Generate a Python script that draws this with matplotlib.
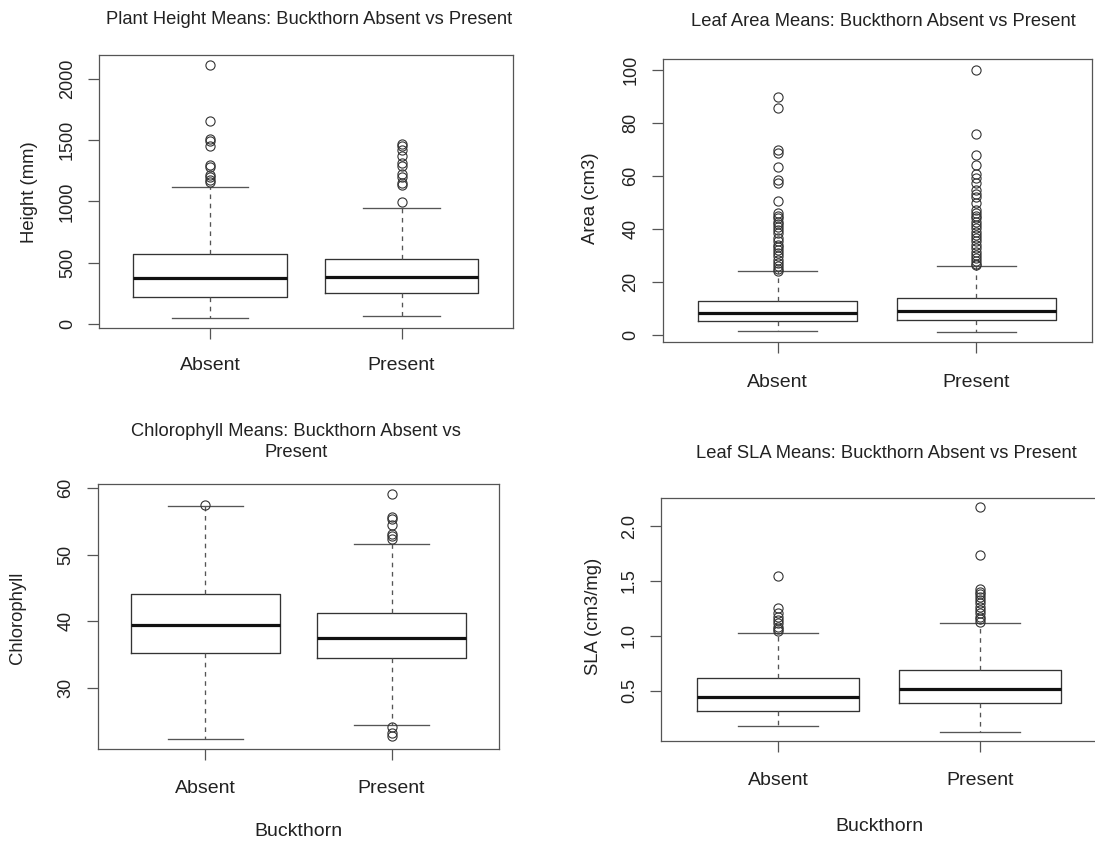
import matplotlib
matplotlib.use("Agg")
import matplotlib.pyplot as plt

plt.rcParams['font.family'] = ['Liberation Sans', 'DejaVu Sans']

W, H = 1095, 842
DPI = 100

groups = ["Absent", "Present"]

# five-number summaries: whisker low, Q1, median, Q3, whisker high
height_absent = [46, 219, 374, 574, 1115]
height_present = [60, 254, 383, 533, 948]
height_absent_out = [2112, 1658, 1508, 1489, 1454, 1298, 1279, 1216, 1197, 1175, 1161]
height_present_out = [997, 1134, 1153, 1202, 1224, 1290, 1311, 1366, 1415, 1448, 1467]

area_absent = [1.5, 5.3, 8.4, 12.8, 24.3]
area_present = [1.25, 5.6, 9.0, 14.0, 25.9]
area_absent_out = [89.7, 85.7, 69.7, 68.5, 63.5, 58.5, 57.4, 50.6, 45.9, 44.9, 44.1,
                   42.8, 41.9, 40.9, 39.7, 38.4, 36.5, 35.3, 34.0, 33.2, 32.2, 30.9,
                   29.7, 28.4, 27.2, 25.9, 24.9, 24.3]
area_present_out = [100.0, 75.8, 67.8, 64.3, 60.7, 59.1, 57.4, 54.7, 53.1, 52.2, 49.7,
                    47.2, 45.9, 44.9, 44.1, 42.8, 41.6, 40.3, 39.0, 37.8, 36.5, 35.3,
                    34.0, 32.8, 31.5, 30.3, 29.0, 27.8, 26.9, 26.3]

chl_absent = [22.3, 35.3, 39.5, 44.1, 57.3]
chl_present = [24.4, 34.5, 37.5, 41.3, 51.6]
chl_absent_out = [57.45]
chl_present_out = [59.1, 55.7, 55.3, 54.4, 53.1, 52.8, 52.3, 24.1, 23.2, 22.8]

sla_absent = [0.178, 0.315, 0.445, 0.612, 1.022]
sla_present = [0.127, 0.385, 0.512, 0.688, 1.119]
sla_absent_out = [1.547, 1.256, 1.21, 1.174, 1.144, 1.113, 1.083, 1.059, 1.043]
sla_present_out = [2.176, 1.736, 1.423, 1.402, 1.38, 1.356, 1.326, 1.295, 1.265,
                   1.235, 1.204, 1.174, 1.15, 1.128]

height_ticks = [0, 500, 1000, 1500, 2000]
area_ticks = [0, 20, 40, 60, 80, 100]
chl_ticks = [30, 40, 50, 60]
sla_ticks = [0.5, 1.0, 1.5, 2.0]
sla_ticklabels = ["0.5", "1.0", "1.5", "2.0"]

titles = ["Plant Height Means: Buckthorn Absent vs Present",
          "Leaf Area Means: Buckthorn Absent vs Present",
          "Chlorophyll Means: Buckthorn Absent vs\nPresent",
          "Leaf SLA Means: Buckthorn Absent vs Present"]
ylabels = ["Height (mm)", "Area (cm3)", "Chlorophyll", "SLA (cm3/mg)"]
xlabel = "Buckthorn"

TXT = "#222222"

fig = plt.figure(figsize=(W / DPI, H / DPI), dpi=DPI)
fig.patch.set_facecolor("white")


def add_ax(l, r, t, b):
    return fig.add_axes([l / W, 1 - b / H, (r - l) / W, (b - t) / H])


def stats(s, out):
    return dict(whislo=s[0], q1=s[1], med=s[2], q3=s[3], whishi=s[4], fliers=out)


def draw(ax, sa, oa, sp, op, ticks, ticklabels=None, xpad=9.5):
    st = [stats(sa, oa), stats(sp, op)]
    ax.bxp(st, positions=[1, 2], widths=0.8, capwidths=0.4, showfliers=True,
           boxprops=dict(color="#333333", linewidth=0.95),
           medianprops=dict(color="#111111", linewidth=2.3, solid_capstyle="butt"),
           whiskerprops=dict(color="#555555", linewidth=0.95, linestyle=(0, (3.5, 3.5))),
           capprops=dict(color="#555555", linewidth=0.95),
           flierprops=dict(marker="o", markersize=6.6, markerfacecolor="none",
                           markeredgecolor="#333333", markeredgewidth=0.8))
    vals = sa + sp + oa + op
    lo, hi = min(vals), max(vals)
    pad = 0.04 * (hi - lo)
    ax.set_ylim(lo - pad, hi + pad)
    ax.set_xlim(0.42, 2.58)
    ax.set_xticks([1, 2])
    ax.set_xticklabels(groups, fontsize=14, color=TXT)
    ax.set_yticks(ticks)
    ax.set_yticklabels(ticklabels if ticklabels else [str(t) for t in ticks],
                       fontsize=13, color=TXT, rotation=90, va="center")
    ax.tick_params(axis="both", direction="out", length=8, width=0.9, color="#555555")
    ax.tick_params(axis="y", pad=8.5)
    ax.tick_params(axis="x", pad=xpad)
    for s in ax.spines.values():
        s.set_color("#555555")
        s.set_linewidth(0.9)


ax1 = add_ax(99, 512.6, 55, 328.3)
draw(ax1, height_absent, height_absent_out, height_present, height_present_out, height_ticks, xpad=13.0)
ax2 = add_ax(662.5, 1091.5, 59.3, 342.3)
draw(ax2, area_absent, area_absent_out, area_present, area_present_out, area_ticks, xpad=15.0)
ax3 = add_ax(97.5, 499.5, 484, 749.3)
draw(ax3, chl_absent, chl_absent_out, chl_present, chl_present_out, chl_ticks, xpad=14.0)
ax4 = add_ax(661, 1097, 497.7, 740.7)
draw(ax4, sla_absent, sla_absent_out, sla_present, sla_present_out, sla_ticks, sla_ticklabels, xpad=14.5)


def ftext(x, y, s, **kw):
    fig.text(x / W, 1 - y / H, s, ha="center", va="center", color=TXT, **kw)


ftext(309, 19, titles[0], fontsize=13.2)
ftext(883, 21, titles[1], fontsize=13.2)
ftext(296, 442, titles[2], fontsize=13.2, linespacing=1.25)
ftext(886.7, 454, titles[3], fontsize=13.2)

ftext(30, 192.5, ylabels[0], fontsize=13.3, rotation=90)
ftext(590.6, 198, ylabels[1], fontsize=13.3, rotation=90)
ftext(17.5, 617.5, ylabels[2], fontsize=13.3, rotation=90)
ftext(594, 616.7, ylabels[3], fontsize=13.3, rotation=90)

ftext(298, 831.7, xlabel, fontsize=14)
ftext(879, 826.7, xlabel, fontsize=14)

fig.savefig("out.png", dpi=DPI, facecolor="white")
